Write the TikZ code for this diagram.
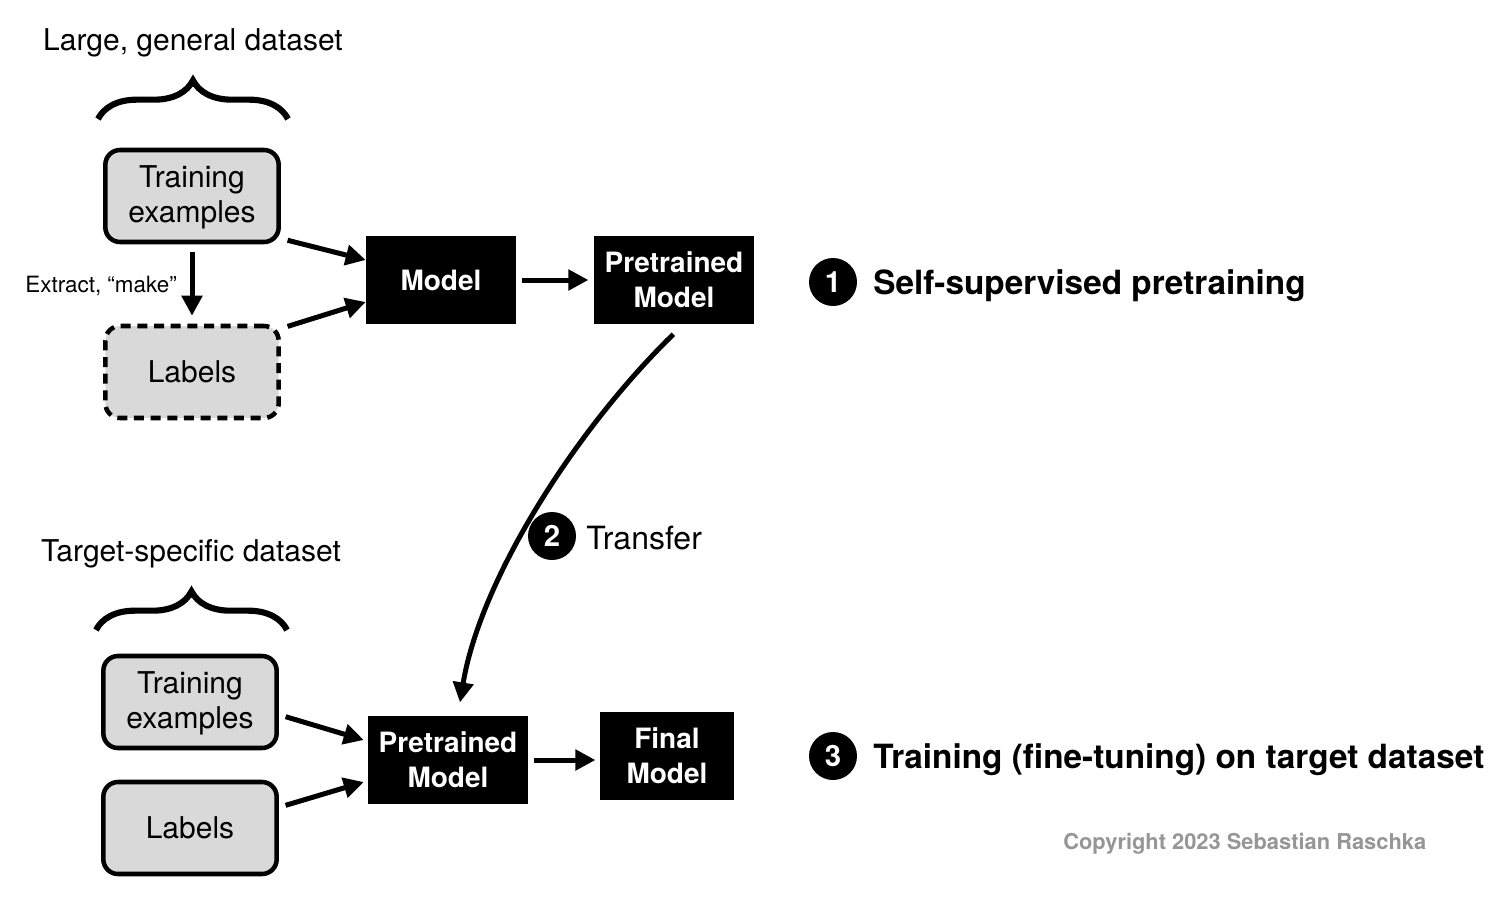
\documentclass[tikz,border=0pt]{standalone}
\usepackage{fontspec}
\setmainfont{TeX Gyre Heros}
\usetikzlibrary{positioning,arrows.meta,decorations.pathreplacing}

\definecolor{boxgray}{RGB}{217,217,217}
\definecolor{markgray}{RGB}{150,150,150}

\begin{document}
\begin{tikzpicture}[x=0.75pt,y=-0.75pt,
  every node/.style={align=center, font=\fontsize{22.5}{26}\selectfont},
  databox/.style={draw, fill=boxgray, line width=3.4pt, rounded corners=11pt, minimum width=130pt, minimum height=69pt},
  dashbox/.style={databox, dash pattern=on 7.5pt off 5pt},
  modelbox/.style={fill=black, text=white, inner sep=0pt, minimum height=66pt, font=\bfseries\fontsize{21}{26}\selectfont},
  num/.style={circle, fill=black, text=white, minimum size=36pt, inner sep=0pt, font=\bfseries\fontsize{22}{22}\selectfont},
  phase/.style={inner sep=0pt, font=\bfseries\fontsize{25}{30}\selectfont},
  arr/.style={-{Triangle[length=15pt,width=15pt]}, line width=3.75pt},
  dbrace/.style={decorate, decoration={brace, amplitude=29pt}, line width=4.6pt}]
\useasboundingbox (0,0) rectangle (1512,914);

% pretraining
\node (gen) at (193,43) {Large, general dataset};
\draw[dbrace] (98,119) -- (288,119);
\node[databox] (tea) at (192,196) {\strut Training\\examples};
\node[dashbox] (laba) at (192,372) {Labels};
\node[inner sep=0pt, anchor=east, font=\fontsize{16.8}{20}\selectfont] (extr) at (177,286) {Extract, “make”};
\node[modelbox, minimum width=112.5pt] (model) at (441,280) {Model};
\node[modelbox, minimum width=120pt] (pta) at (674,280) {Pretrained\\Model};
\node[num] (n1) at (833,282) {1};
\node[phase, anchor=west] (p1) at (873,286) {Self-supervised pretraining};

\draw[arr, shorten <=6pt, shorten >=6pt] (tea) -- (laba);
\draw[arr] ([xshift=5pt,yshift=3pt]tea.south east) -- ([yshift=15pt]model.west);
\draw[arr] ([xshift=5pt,yshift=-2pt]laba.north east) -- ([yshift=-16.5pt]model.west);
\draw[arr, shorten <=4pt, shorten >=4pt] (model) -- (pta);

% transfer
\node[num] (n2) at (552,536) {2};
\node[inner sep=0pt, anchor=west, font=\fontsize{24}{28}\selectfont] (p2) at (586,538) {Transfer};

% fine-tuning
\node (tgt) at (191,554) {Target-specific dataset};
\draw[dbrace] (96,630) -- (287,630);
\node[databox] (teb) at (190,702) {\strut Training\\examples};
\node[databox] (labb) at (190,828) {Labels};
\node[modelbox, minimum width=120pt] (ptb) at (448,760) {Pretrained\\Model};
\node[modelbox, minimum width=101pt] (fin) at (667,756) {Final\\Model};
\node[num] (n3) at (833,756) {3};
\node[phase, anchor=west] (p3) at (873,760) {Training (fine-tuning) on target dataset};

\draw[arr] ([xshift=-0.5pt,yshift=-7.5pt]pta.south) .. controls (575,430) and (480,580) .. ([xshift=9pt,yshift=10pt]ptb.north);
\draw[arr] ([xshift=5pt,yshift=-11pt]teb.east) -- ([xshift=-3pt,yshift=15pt]ptb.west);
\draw[arr] ([xshift=5pt,yshift=17pt]labb.east) -- ([xshift=-3pt,yshift=-16.5pt]ptb.west);
\draw[arr, shorten <=4pt, shorten >=3pt] (ptb.east) -- (ptb.east -| fin.west);

\node[inner sep=0pt, anchor=west, text=markgray, font=\bfseries\fontsize{16.4}{20}\selectfont] (copy) at (1063,844) {Copyright 2023 Sebastian Raschka};
\end{tikzpicture}
\end{document}
